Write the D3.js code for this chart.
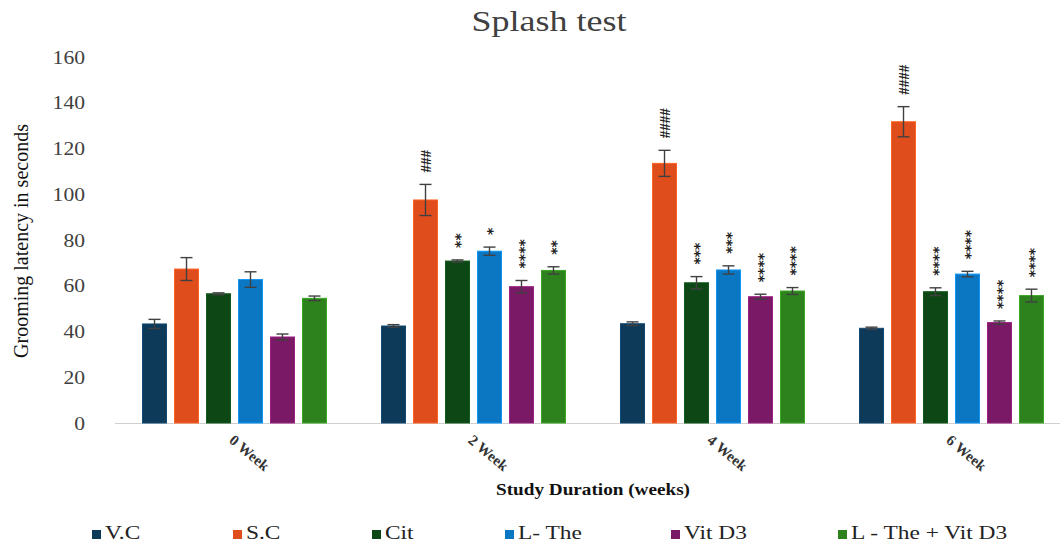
<!DOCTYPE html>
<html>
<head>
<meta charset="utf-8">
<script src="https://cdn.jsdelivr.net/npm/d3@7"></script>
<style>
  html, body { margin: 0; padding: 0; background: #fff; }
  svg { display: block; font-family: "Liberation Serif", "Times New Roman", serif; }
</style>
</head>
<body>
<svg id="chart" width="1060" height="544"></svg>
<script>
// ---- data ----
const categories = ["0 Week", "2 Week", "4 Week", "6 Week"];
const seriesNames = ["V.C", "S.C", "Cit", "L- The", "Vit D3", "L - The + Vit D3"];
const seriesColors = ["#0e3a5a", "#df4d1c", "#0e4716", "#0b76c2", "#7a1966", "#2e821d"];

const valVC    = [43.3, 42.4, 43.4, 41.4];
const valSC    = [67.3, 97.5, 113.5, 131.7];
const valCit   = [56.5, 70.8, 61.3, 57.4];
const valLThe  = [62.7, 75.1, 66.9, 65.1];
const valVitD3 = [37.6, 59.6, 55.2, 43.9];
const valCombo = [54.5, 66.7, 57.7, 55.7];

const errVC    = [2.0, 0.6, 0.8, 0.5];
const errSC    = [5.0, 6.8, 5.7, 6.6];
const errCit   = [0.4, 0.5, 2.7, 1.7];
const errLThe  = [3.4, 1.8, 1.8, 1.2];
const errVitD3 = [1.3, 2.7, 1.1, 0.7];
const errCombo = [1.0, 1.6, 1.5, 2.8];

const sigVC    = ["", "", "", ""];
const sigSC    = ["", "###", "####", "####"];
const sigCit   = ["", "**", "***", "****"];
const sigLThe  = ["", "*", "***", "****"];
const sigVitD3 = ["", "****", "****", "****"];
const sigCombo = ["", "**", "****", "****"];

const yTicks = [0, 20, 40, 60, 80, 100, 120, 140, 160];

const values = [valVC, valSC, valCit, valLThe, valVitD3, valCombo];
const errors = [errVC, errSC, errCit, errLThe, errVitD3, errCombo];
const sigs   = [sigVC, sigSC, sigCit, sigLThe, sigVitD3, sigCombo];

// ---- layout ----
const svg = d3.select("#chart");
const SX = 1.2;
const plotLeft = 115, plotRight = 1071, plotTop = 57, plotBottom = 423;

const x0 = d3.scaleBand().domain(categories).range([plotLeft, plotRight]).paddingInner(0).paddingOuter(0);
const x1 = d3.scaleBand().domain(seriesNames).range([0, x0.bandwidth()]).paddingInner(0.25).paddingOuter(0.86);
const y = d3.scaleLinear().domain([0, 160]).range([plotBottom, plotTop]);
const color = d3.scaleOrdinal().domain(seriesNames).range(seriesColors);

const rows = [];
seriesNames.forEach((s, si) => {
  categories.forEach((c, ci) => {
    rows.push({ s, c, v: values[si][ci], e: errors[si][ci], sig: sigs[si][ci] });
  });
});

// title
svg.append("g").attr("transform", `translate(549,31) scale(${SX},1)`)
  .append("text").attr("text-anchor", "middle")
  .attr("font-size", 30).attr("fill", "#404040").text("Splash test");

// y axis
const yAxis = svg.append("g").attr("transform", `translate(${plotLeft},0)`)
  .call(d3.axisLeft(y).tickValues(yTicks).tickSize(0).tickPadding(0));
yAxis.select(".domain").remove();
yAxis.selectAll("text")
  .attr("font-family", "Liberation Serif, serif")
  .attr("font-size", 18).attr("fill", "#404040")
  .attr("x", -30 / SX).attr("dy", "0.34em")
  .attr("transform", `scale(${SX},1)`);

// x axis line
svg.append("line").attr("x1", plotLeft).attr("x2", plotRight)
  .attr("y1", y(0) + 0.5).attr("y2", y(0) + 0.5)
  .attr("stroke", "#d0d0d0").attr("stroke-width", 1);

// bars
const barG = svg.append("g");
barG.selectAll("rect").data(rows).join("rect")
  .attr("x", d => x0(d.c) + x1(d.s))
  .attr("y", d => y(d.v))
  .attr("width", x1.bandwidth())
  .attr("height", d => y(0) - y(d.v))
  .attr("fill", d => color(d.s))
  .attr("stroke", d => d3.color(color(d.s)).brighter(0.7))
  .attr("stroke-width", 1);

// error bars
const errG = svg.append("g").attr("stroke", "#404040").attr("stroke-width", 1.4);
rows.forEach(d => {
  const cx = x0(d.c) + x1(d.s) + x1.bandwidth() / 2;
  const yt = y(d.v + d.e), yb = y(d.v - d.e);
  errG.append("line").attr("x1", cx).attr("x2", cx).attr("y1", yt).attr("y2", yb);
  errG.append("line").attr("x1", cx - 6).attr("x2", cx + 6).attr("y1", yt).attr("y2", yt);
  errG.append("line").attr("x1", cx - 6).attr("x2", cx + 6).attr("y1", yb).attr("y2", yb);
});

// significance marks
const sigG = svg.append("g");
rows.filter(d => d.sig).forEach(d => {
  const cx = x0(d.c) + x1(d.s) + x1.bandwidth() / 2;
  const yt = y(d.v + d.e) - 12;
  const isStar = d.sig[0] === "*";
  sigG.append("text")
    .attr("transform", `translate(${cx},${yt}) rotate(-90)`)
    .attr("text-anchor", "start")
    .attr("dominant-baseline", "central")
    .attr("dy", isStar ? "0.2em" : "0.02em")
    .attr("font-family", isStar ? "DejaVu Sans, sans-serif" : "Liberation Serif, serif")
    .attr("font-size", isStar ? 14 : 15)
    .attr("font-weight", "bold")
    .attr("fill", "#222")
    .text(d.sig);
});

// x tick labels
categories.forEach(c => {
  const cx = x0(c) + x0.bandwidth() / 2;
  svg.append("text")
    .attr("transform", `translate(${cx - 3},438) rotate(40)`)
    .attr("font-size", 15).attr("font-weight", "bold").attr("fill", "#333")
    .attr("dominant-baseline", "central")
    .text(c);
});

// x axis title
svg.append("g").attr("transform", `translate(593,495) scale(${SX},1)`)
  .append("text").attr("text-anchor", "middle")
  .attr("font-size", 16).attr("font-weight", "bold").attr("fill", "#111")
  .text("Study Duration (weeks)");

// y axis title
svg.append("text")
  .attr("transform", `translate(28,241) rotate(-90)`)
  .attr("text-anchor", "middle")
  .attr("font-size", 20).attr("fill", "#111")
  .text("Grooming latency in seconds");

// legend
const legendX = [92, 233, 372, 505, 671, 838];
const LSX = 1.3;
const lg = svg.append("g");
seriesNames.forEach((s, i) => {
  lg.append("rect").attr("x", legendX[i]).attr("y", 530).attr("width", 9).attr("height", 9)
    .attr("fill", color(s));
  lg.append("g").attr("transform", `translate(${legendX[i] + 13},539) scale(${LSX},1)`)
    .append("text").attr("font-size", 18).attr("fill", "#222").text(s);
});
</script>
</body>
</html>
